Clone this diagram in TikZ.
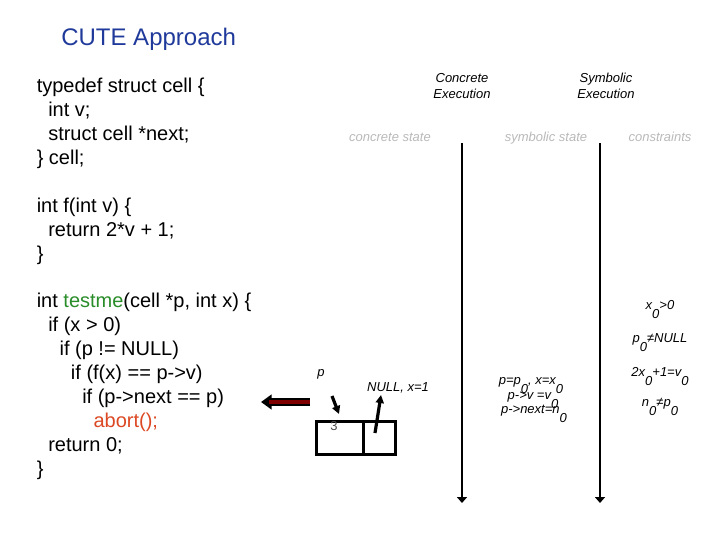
\documentclass[tikz,border=0pt]{standalone}
\usepackage{fontspec}
\setmainfont{Liberation Sans}
\usetikzlibrary{arrows.meta}
\definecolor{titleblue}{RGB}{32,58,155}
\definecolor{fgreen}{RGB}{40,140,40}
\definecolor{abortred}{RGB}{220,72,35}
\definecolor{lightgray}{RGB}{185,185,185}
\definecolor{darkred}{RGB}{128,0,0}
\newcommand{\zsub}[1]{\raisebox{-0.75em}{#1}}
\begin{document}
\begin{tikzpicture}[x=0.75pt,y=-0.75pt,
  code/.style={anchor=base west,inner sep=0pt,font=\fontsize{15pt}{18pt}\selectfont},
  small/.style={inner sep=0pt,font=\fontsize{9.75pt}{12pt}\selectfont\itshape},
  head/.style={small,align=center,anchor=base},
  grayhead/.style={small,text=lightgray,anchor=base},
  timeline/.style={line width=1.9pt,-{Triangle[width=7.5pt,length=4.5pt]}},
  ptr/.style={line width=2.4pt,-{Triangle[width=6pt,length=6pt]}},
  cellbox/.style={draw,line width=2.2pt}]
\useasboundingbox (0,0) rectangle (720,540);

\node[anchor=base west,inner sep=0pt,text=titleblue,font=\fontsize{18pt}{22pt}\selectfont] (title) at (61,45) {CUTE Approach};

% code
\node[code] (c1) at (36.5,92) {typedef struct cell \{};
\node[code] (c2) at (48,116) {int v;};
\node[code] (c3) at (48,140) {struct cell *next;};
\node[code] (c4) at (36.5,164) {\} cell;};
\node[code] (c5) at (36.5,212) {int f(int v) \{};
\node[code] (c6) at (48,236) {return 2*v + 1;};
\node[code] (c7) at (36.5,260) {\}};
\node[code] (c8) at (36.5,307) {int \textcolor{fgreen}{testme}(cell *p, int x) \{};
\node[code] (c9) at (48,331) {if (x > 0)};
\node[code] (c10) at (59.3,355) {if (p != NULL)};
\node[code] (c11) at (70.7,379) {if (f(x) == p->v)};
\node[code] (c12) at (82,403) {if (p->next == p)};
\node[code,text=abortred] (c13) at (93.3,427) {abort();};
\node[code] (c14) at (48,451) {return 0;};
\node[code] (c15) at (36.5,475) {\}};

% headers
\node[head] (hc) at (462,98) {Concrete\\Execution};
\node[head] (hs) at (606,98) {Symbolic\\Execution};
\node[grayhead] (gc) at (390,141.5) {concrete state};
\node[grayhead] (gs) at (546,141.5) {symbolic state};
\node[grayhead] (gk) at (660,141.5) {constraints};

% timelines
\coordinate (ct) at (462,143);
\coordinate (cb) at (462,503);
\coordinate (st) at (600,143);
\coordinate (sb) at (600,503);
\draw[timeline] (ct) -- (cb);
\draw[timeline] (st) -- (sb);

% red arrow
\coordinate (ra) at (310,402);
\coordinate (rb) at (261,402);
\draw[line width=5.5pt,black,-{Triangle[width=11pt,length=8pt]}] (ra) -- (rb);
\draw[line width=3pt,darkred,shorten >=6pt] (ra) -- (rb);

% concrete state cell
\node[cellbox,inner sep=0pt,anchor=north west,minimum width=35.25pt,minimum height=24.75pt] (cv) at (315,420) {};
\node[cellbox,inner sep=0pt,anchor=north west,minimum width=24pt,minimum height=24.75pt] (cn) at (362,420) {};
\node[small,anchor=base] (pl) at (321,376) {p};
\node[inner sep=0pt,anchor=base,font=\fontsize{9.75pt}{12pt}\selectfont,text=black!70] (three) at (334,430) {3};
\node[small,anchor=base] (nl) at (398,391) {NULL, x=1};
\coordinate (p1) at (332,396);
\coordinate (p2) at (339,414);
\draw[ptr] (p1) -- (p2);
\coordinate (n1) at (375,433);
\coordinate (n2) at (381,395);
\draw[ptr] (n1) -- (n2);

% symbolic state
\node[small,anchor=base] (s1) at (531,384) {p=p\zsub{0}, x=x\zsub{0}};
\node[small,anchor=base] (s2) at (533,399) {p->v =v\zsub{0}};
\node[small,anchor=base] (s3) at (534,413) {p->next=n\zsub{0}};

% constraints
\node[small,anchor=base] (k1) at (660,309) {x\zsub{0}>0};
\node[small,anchor=base] (k2) at (660,342) {p\zsub{0}≠NULL};
\node[small,anchor=base] (k3) at (660,376) {2x\zsub{0}+1=v\zsub{0}};
\node[small,anchor=base] (k4) at (660,406) {n\zsub{0}≠p\zsub{0}};
\end{tikzpicture}
\end{document}
